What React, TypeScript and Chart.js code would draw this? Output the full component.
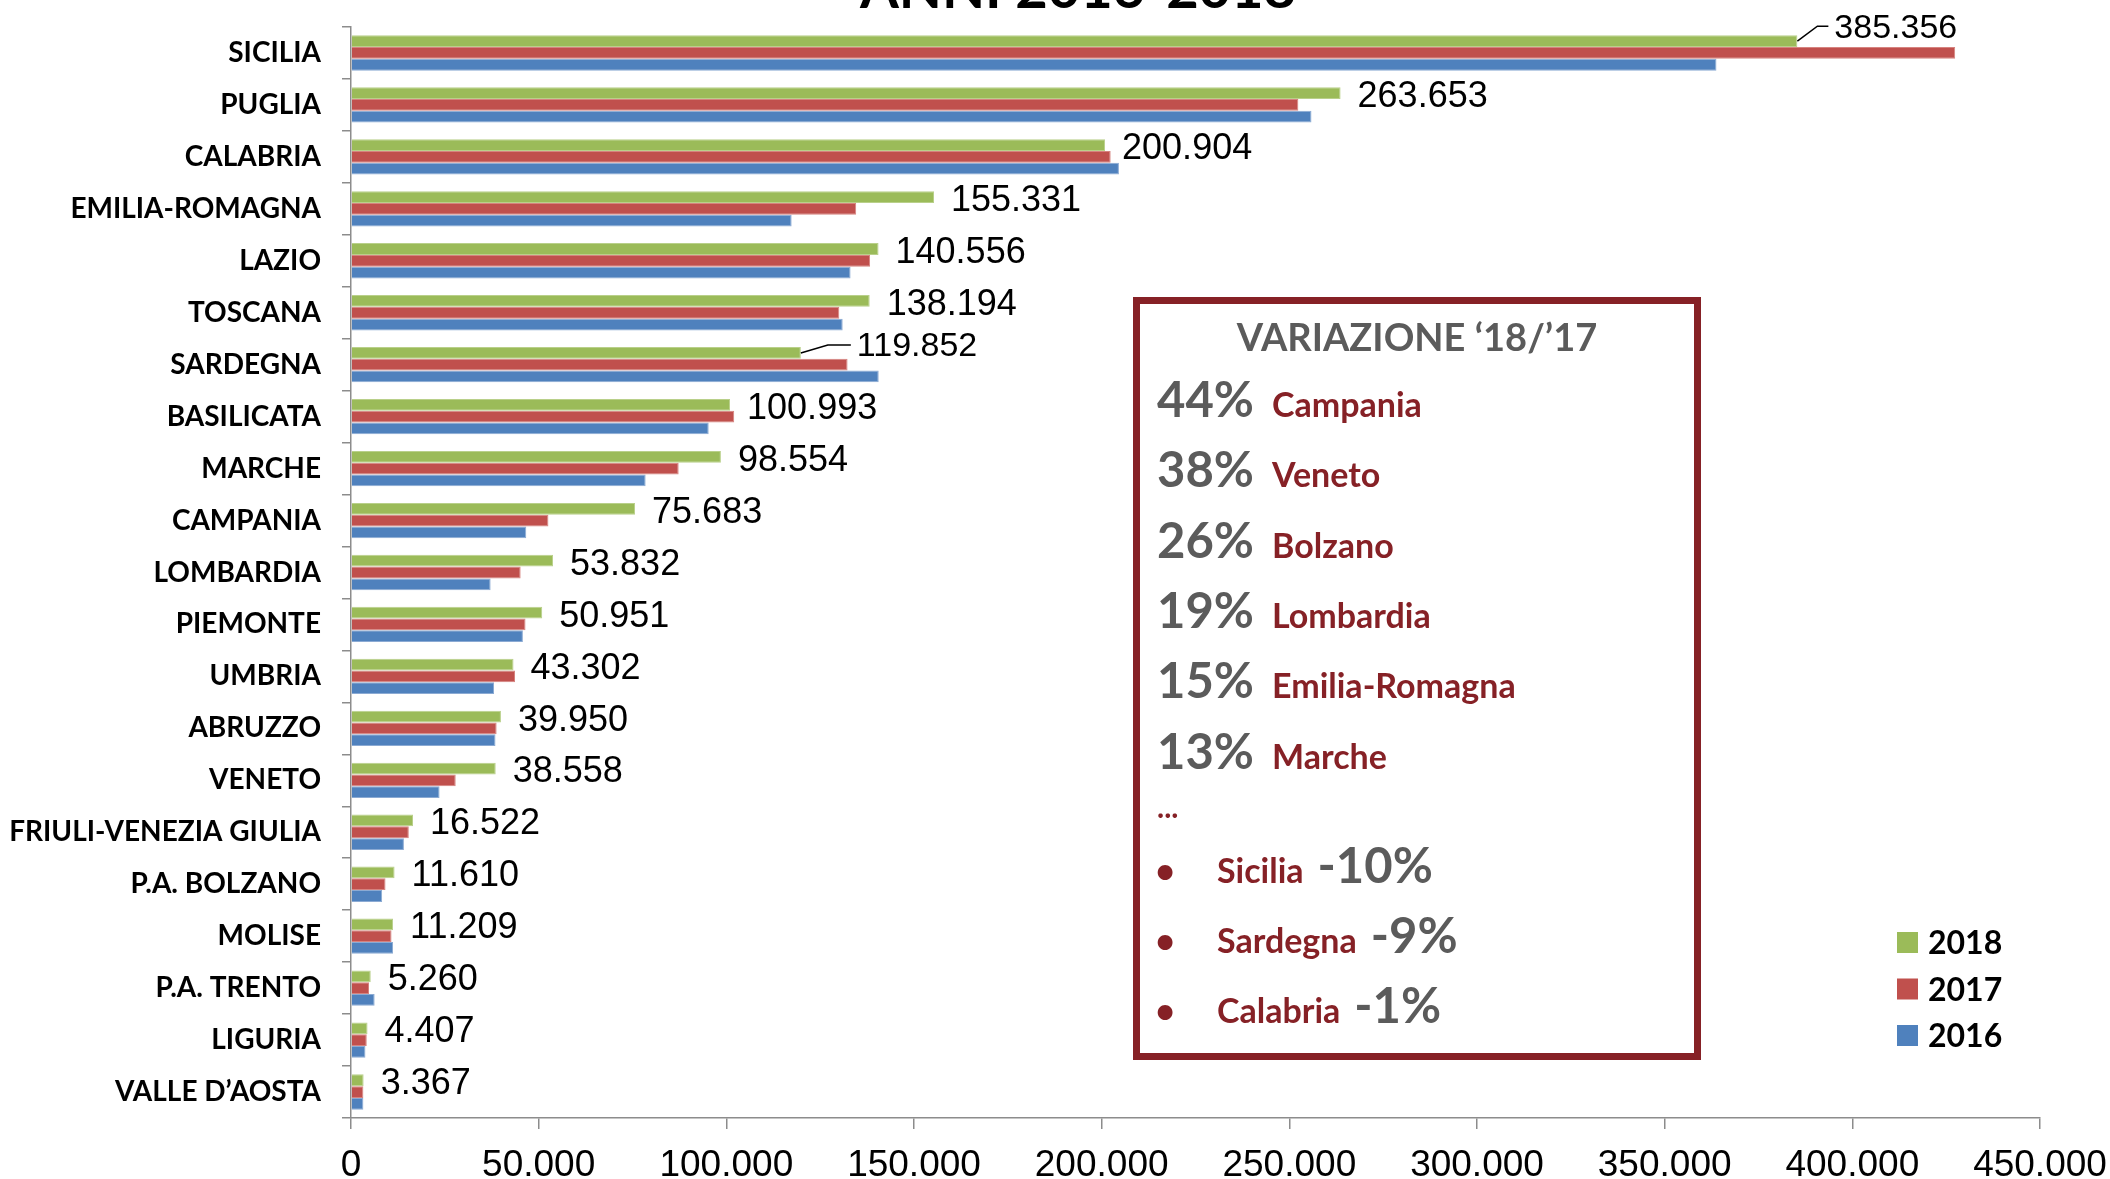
import React, { useEffect, useRef } from "react";
import { Chart, registerables } from "chart.js";

Chart.register(...registerables);

// ---------- DATA ----------
const regions = [
  "SICILIA", "PUGLIA", "CALABRIA", "EMILIA-ROMAGNA", "LAZIO", "TOSCANA", "SARDEGNA",
  "BASILICATA", "MARCHE", "CAMPANIA", "LOMBARDIA", "PIEMONTE", "UMBRIA", "ABRUZZO",
  "VENETO", "FRIULI-VENEZIA GIULIA", "P.A. BOLZANO", "MOLISE", "P.A. TRENTO", "LIGURIA",
  "VALLE D’AOSTA",
];
const values2018 = [
  385356, 263653, 200904, 155331, 140556, 138194, 119852, 100993, 98554, 75683, 53832,
  50951, 43302, 39950, 38558, 16522, 11610, 11209, 5260, 4407, 3367,
];
const values2017 = [
  427400, 252400, 202400, 134600, 138300, 130100, 132300, 102100, 87300, 52600, 45200,
  46500, 43700, 38800, 27900, 15400, 9200, 10800, 4800, 4200, 3300,
];
const values2016 = [
  363800, 255900, 204600, 117400, 133100, 131000, 140600, 95300, 78500, 46700, 37200,
  45800, 38100, 38500, 23600, 14100, 8300, 11200, 6300, 3850, 3300,
];
const seriesLabels = ["2018", "2017", "2016"];
const seriesColors = ["#9BBB59", "#C0504D", "#4F81BD"];
const seriesBorders = ["#B9D08A", "#D6837F", "#8BAAD3"];

const chartTitle = "ANNI 2016-2018";
const boxTitle = "VARIAZIONE ‘18/’17";
const topChanges: [string, string][] = [
  ["44%", "Campania"],
  ["38%", "Veneto"],
  ["26%", "Bolzano"],
  ["19%", "Lombardia"],
  ["15%", "Emilia-Romagna"],
  ["13%", "Marche"],
];
const bottomChanges: [string, string][] = [
  ["Sicilia", "-10%"],
  ["Sardegna", "-9%"],
  ["Calabria", "-1%"],
];

// labels that are moved off the bar with a leader line (index -> offsets)
const LEADERS: Record<number, { dx: number; dy: number; bend: number }> = {
  0: { dx: 37, dy: -13, bend: 20 },
  6: { dx: 56, dy: -6, bend: 27 },
};

const fmt = (n: number) =>
  String(Math.round(n)).replace(/\B(?=(\d{3})+(?!\d))/g, ".");

const GRAY = "#5B5B5B";
const DARKRED = "#862126";
const AXIS = "#8C8C8C";

const overlayPlugin = {
  id: "overlay",
  afterDatasetsDraw(chart: any) {
    const ctx = chart.ctx as CanvasRenderingContext2D;
    const meta = chart.getDatasetMeta(0);
    ctx.save();
    ctx.fillStyle = "#000";
    ctx.textAlign = "left";
    ctx.textBaseline = "middle";
    meta.data.forEach((el: any, i: number) => {
      const { x, y } = el.getProps(["x", "y"], true);
      const text = fmt(values2018[i]);
      const lead = LEADERS[i];
      if (lead) {
        ctx.font = '34px "Liberation Sans", Arial, sans-serif';
        const lx = x + lead.dx;
        const ly = y + lead.dy;
        ctx.beginPath();
        ctx.moveTo(x, y);
        ctx.lineTo(x + lead.bend, ly - 2);
        ctx.lineTo(lx - 6, ly - 2);
        ctx.strokeStyle = "#000";
        ctx.lineWidth = 1.5;
        ctx.stroke();
        ctx.fillText(text, lx, ly);
      } else {
        ctx.font = '36px "Liberation Sans", Arial, sans-serif';
        ctx.fillText(text, x + 17, y + 4);
      }
    });
    ctx.restore();
  },
  afterDraw(chart: any) {
    const ctx = chart.ctx as CanvasRenderingContext2D;
    ctx.save();
    // title (cut at the top)
    ctx.fillStyle = "#000";
    ctx.textAlign = "center";
    ctx.textBaseline = "alphabetic";
    ctx.font = 'bold 56px Lato, "Open Sans", sans-serif';
    ctx.fillText(chartTitle, 1078, 8);

    // box
    ctx.strokeStyle = DARKRED;
    ctx.lineWidth = 7;
    ctx.strokeRect(1136.5, 300.5, 561, 756);
    ctx.fillStyle = GRAY;
    ctx.textAlign = "center";
    ctx.font = "bold 38px Lato";
    ctx.fillText(boxTitle, 1417, 351);

    ctx.textAlign = "left";
    topChanges.forEach(([pct, name], i) => {
      const by = 417 + i * 70.3;
      ctx.fillStyle = GRAY;
      ctx.font = "bold 49px Lato";
      ctx.fillText(pct, 1157, by);
      ctx.fillStyle = DARKRED;
      ctx.font = "bold 34px Lato";
      ctx.fillText(name, 1272, by);
    });
    ctx.fillStyle = DARKRED;
    ctx.font = "bold 30px Lato";
    ctx.fillText("...", 1157, 818);

    bottomChanges.forEach(([name, pct], i) => {
      const by = 883 + i * 70;
      ctx.fillStyle = DARKRED;
      ctx.textAlign = "center";
      ctx.font = "bold 34px Lato";
      ctx.fillText("•", 1165, by);
      ctx.textAlign = "left";
      ctx.fillText(name, 1217, by);
      const w = ctx.measureText(name).width;
      ctx.fillStyle = GRAY;
      ctx.font = "bold 49px Lato";
      ctx.fillText(pct, 1217 + w + 14, by);
    });

    // legend
    seriesLabels.forEach((lab, i) => {
      const top = 932 + i * 46.5;
      ctx.fillStyle = seriesColors[i];
      ctx.fillRect(1897, top, 21, 21);
      ctx.fillStyle = "#000";
      ctx.font = "bold 32px Lato";
      ctx.textAlign = "left";
      ctx.fillText(lab, 1928, top + 22);
    });
    ctx.restore();
  },
};

export default function App() {
  const ref = useRef<HTMLCanvasElement | null>(null);
  useEffect(() => {
    if (!ref.current) return;
    const series = [values2018, values2017, values2016];
    const chart = new Chart(ref.current, {
      type: "bar",
      data: {
        labels: regions,
        datasets: series.map((d, i) => ({
          label: seriesLabels[i],
          data: d,
          backgroundColor: seriesColors[i],
          borderColor: seriesBorders[i],
          borderWidth: 1,
          categoryPercentage: 0.68,
          barPercentage: 1.0,
        })),
      },
      options: {
        indexAxis: "y",
        responsive: false,
        animation: false,
        devicePixelRatio: 1,
        layout: { padding: { top: 27, right: 70, left: 0, bottom: 0 } },
        plugins: {
          legend: { display: false },
          title: { display: false },
          tooltip: { enabled: false },
        },
        scales: {
          x: {
            type: "linear",
            min: 0,
            max: 450000,
            ticks: {
              stepSize: 50000,
              color: "#000",
              padding: 15,
              font: { family: '"Liberation Sans", Arial, sans-serif', size: 37 },
              callback: (v: any) => fmt(Number(v)),
            },
            grid: {
              drawOnChartArea: false,
              drawTicks: true,
              tickLength: 11,
              color: AXIS,
              lineWidth: 1.5,
            },
            border: { color: AXIS, width: 1.5 },
            afterFit: (s: any) => {
              s.height = 61;
              s.paddingLeft = 0;
              s.paddingRight = 0;
            },
          },
          y: {
            type: "category",
            ticks: {
              color: "#000",
              padding: 21,
              autoSkip: false,
              font: { family: "Lato", weight: "bold", size: 28 },
            },
            grid: {
              offset: true,
              drawOnChartArea: false,
              tickLength: 9,
              color: AXIS,
              lineWidth: 1.5,
            },
            border: { color: AXIS, width: 1.5 },
            afterFit: (s: any) => {
              s.width = 351;
              s.paddingTop = 0;
              s.paddingBottom = 0;
            },
          },
        },
      } as any,
      plugins: [overlayPlugin],
    });
    return () => chart.destroy();
  }, []);

  return (
    <div style={{ position: "absolute", left: 0, top: 0, width: 2110, height: 1179, background: "#fff" }}>
      <canvas ref={ref} width={2110} height={1179} style={{ width: 2110, height: 1179, display: "block" }} />
    </div>
  );
}
